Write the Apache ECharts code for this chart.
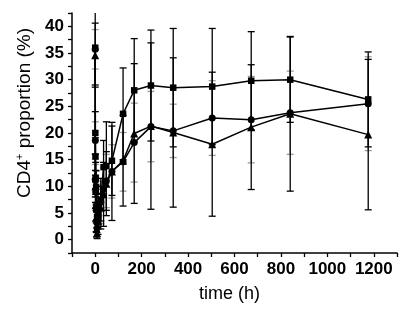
<!DOCTYPE html>
<html>
<head>
<meta charset="utf-8">
<script src="https://cdn.jsdelivr.net/npm/echarts@6/dist/echarts.min.js"></script>
<style>html,body{margin:0;padding:0;background:#fff}#c{width:409px;height:315px}</style>
</head>
<body>
<div id="c"></div>
<script>
// time points (h)
const times = [0, 0.5, 1, 2, 4, 6, 8, 12, 24, 36, 48, 72, 120, 168, 240, 336, 504, 672, 840, 1176];
// series: squares
const squareVals = [36.0, 20.0, 15.6, 11.5, 9.9, 6.2, 4.2, 5.5, 7.5, 13.6, 13.8, 14.8, 23.6, 28.0, 28.9, 28.5, 28.7, 29.8, 30.0, 26.3];
const squareErr  = [7.0, 4.0, 3.5, 3.0, 3.0, 2.5, 2.0, 3.0, 4.0, 5.0, 8.3, 6.5, 8.6, 9.7, 10.4, 11.1, 10.9, 9.2, 8.0, 8.9];
// series: circles
const circleVals = [35.7, 18.6, 11.1, 9.0, 5.5, 3.3, 2.2, 4.5, 7.0, 9.5, 11.0, 12.8, 14.6, 18.2, 21.2, 20.4, 22.8, 22.5, 23.8, 25.5];
const circleErr  = [3.7, 3.5, 3.0, 3.0, 2.5, 2.0, 1.5, 2.5, 4.0, 4.0, 5.0, 5.0, 5.5, 7.4, 6.6, 5.0, 7.0, 8.1, 7.8, 8.8];
// series: triangles
const triVals = [34.6, 12.0, 10.0, 6.5, 4.0, 2.0, 1.2, 3.5, 6.0, 8.5, 10.5, 12.8, 14.8, 19.9, 21.3, 20.1, 17.9, 21.1, 23.6, 19.7];
const triErr  = [6.0, 4.0, 3.0, 3.0, 2.5, 1.5, 1.0, 2.5, 4.0, 6.0, 6.0, 9.2, 8.5, 13.1, 15.6, 14.0, 13.5, 11.7, 14.5, 14.1];
// axis tick labels
const xTicks = [0, 200, 400, 600, 800, 1000, 1200];
const yTicks = [0, 5, 10, 15, 20, 25, 30, 35, 40];

const pairs = (vals) => times.map((t, i) => [t, vals[i]]);
const errData = (vals, errs) => times.map((t, i) => [t, vals[i] - errs[i], vals[i] + errs[i]]);

function errRender(color) {
  return function (params, api) {
    const x = api.value(0);
    const lo = api.coord([x, api.value(1)]);
    const hi = api.coord([x, api.value(2)]);
    const w = 3.5;
    const st = { stroke: color, lineWidth: 1.3 };
    return {
      type: 'group',
      children: [
        { type: 'line', shape: { x1: hi[0], y1: hi[1], x2: lo[0], y2: lo[1] }, style: st },
        { type: 'line', shape: { x1: hi[0] - w, y1: hi[1], x2: hi[0] + w, y2: hi[1] }, style: st },
        { type: 'line', shape: { x1: lo[0] - w, y1: lo[1], x2: lo[0] + w, y2: lo[1] }, style: st }
      ]
    };
  };
}

const xMin = -100, xMax = 1300, yMin = -2.5, yMax = 42.5;
const FF = 'Liberation Sans, Arial, sans-serif';
const lblFont = { fontFamily: FF, fontWeight: 'bold', fontSize: 17, color: '#000' };

const chart = echarts.init(document.getElementById('c'), null, { renderer: 'canvas' });
chart.setOption({
  animation: false,
  backgroundColor: '#fff',
  grid: { left: 72, right: 12, top: 13, bottom: 62 },
  xAxis: {
    type: 'value', min: xMin, max: xMax, interval: 100, splitLine: { show: false },
    axisLine: { onZero: false, lineStyle: { color: '#000', width: 1.5 } },
    axisTick: { show: true, length: 4, lineStyle: { color: '#000', width: 1.3 } },
    axisLabel: Object.assign({ customValues: xTicks, margin: 8, formatter: (v) => String(v) }, lblFont),
    name: 'time (h)', nameLocation: 'middle', nameGap: 32,
    nameTextStyle: { fontFamily: FF, fontSize: 18, color: '#000', padding: [0, 10, 0, 0] }
  },
  yAxis: {
    type: 'value', min: yMin, max: yMax, interval: 2.5, splitLine: { show: false },
    axisLine: { onZero: false, lineStyle: { color: '#000', width: 1.5 } },
    axisTick: { show: true, length: 4, lineStyle: { color: '#000', width: 1.3 } },
    axisLabel: Object.assign({ customValues: yTicks, margin: 8 }, lblFont),
    name: 'CD4{s|+} proportion (%)', nameLocation: 'middle', nameGap: 37,
    nameTextStyle: {
      fontFamily: FF, fontSize: 19, color: '#000',
      padding: [0, 0, 0, 40],
      rich: { s: { fontSize: 11, verticalAlign: 'top', padding: [0, 0, 9, 0], fontFamily: FF, color: '#000' } }
    }
  },
  series: [
    { type: 'custom', renderItem: errRender('#9a9a9a'), data: errData(circleVals, circleErr), encode: { x: 0, y: [1, 2] }, clip: true, z: 1 },
    { type: 'custom', renderItem: errRender('#000'), data: errData(triVals, triErr), encode: { x: 0, y: [1, 2] }, clip: true, z: 2 },
    { type: 'custom', renderItem: errRender('#000'), data: errData(squareVals, squareErr), encode: { x: 0, y: [1, 2] }, clip: true, z: 2 },
    { type: 'line', data: pairs(circleVals), symbol: 'circle', symbolSize: 7, itemStyle: { color: '#000' }, lineStyle: { color: '#000', width: 1.5 }, z: 3 },
    { type: 'line', data: pairs(triVals), symbol: 'triangle', symbolSize: 8, itemStyle: { color: '#000' }, lineStyle: { color: '#000', width: 1.5 }, z: 3 },
    { type: 'line', data: pairs(squareVals), symbol: 'rect', symbolSize: 6.5, itemStyle: { color: '#000' }, lineStyle: { color: '#000', width: 1.5 }, z: 3 }
  ]
});
</script>
</body>
</html>
